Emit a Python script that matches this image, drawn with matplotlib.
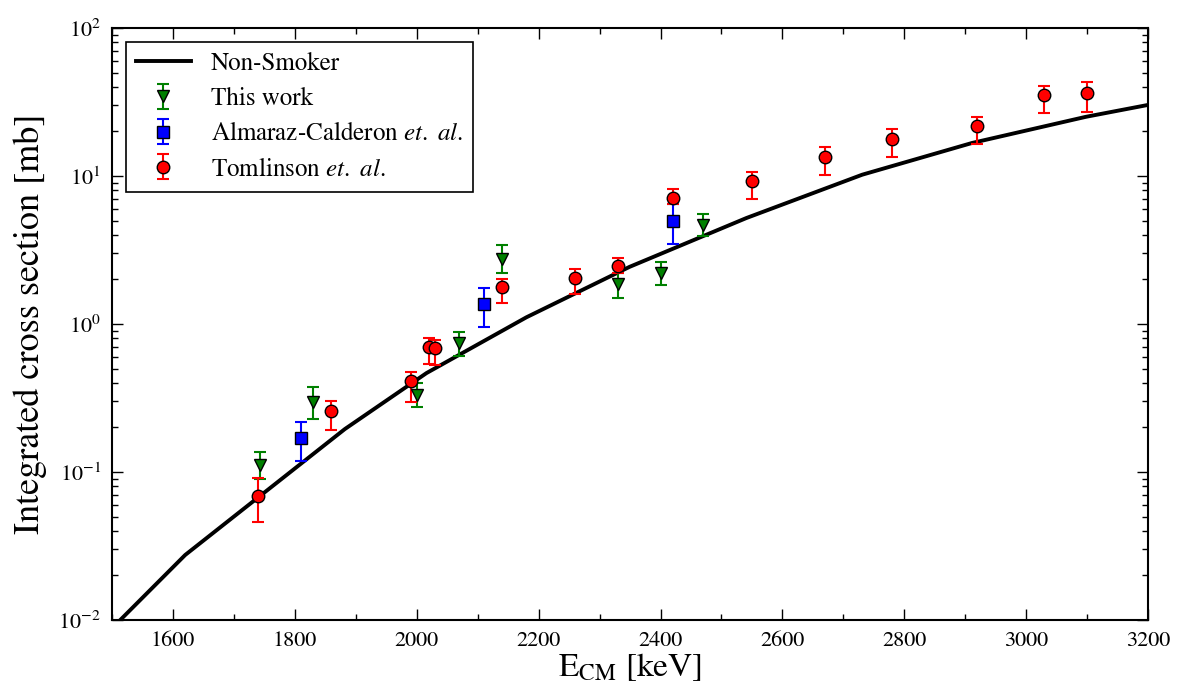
# cross section vs centre-of-mass energy, Non-Smoker vs data
import numpy as np
import matplotlib
matplotlib.use("Agg")
import matplotlib.pyplot as plt
from matplotlib.ticker import MultipleLocator

plt.rcParams["font.family"] = ["STIXGeneral", "DejaVu Serif"]
plt.rcParams["mathtext.fontset"] = "stix"

# Non-Smoker calculation
ns_energy = [1500, 1620, 1882, 2016, 2180, 2349, 2541, 2731, 2911, 3098, 3200]
ns_sigma = [0.0088, 0.0275, 0.195, 0.466, 1.11, 2.43, 5.2, 10.2, 16.7, 25.1, 30.2]

# this work
tw_energy = [1742, 1830, 2000, 2070, 2140, 2330, 2400, 2470]
tw_sigma = [0.111, 0.297, 0.331, 0.745, 2.75, 1.86, 2.21, 4.67]
tw_up = [0.136, 0.375, 0.40, 0.88, 3.42, 2.20, 2.62, 5.53]
tw_lo = [0.0897, 0.228, 0.275, 0.61, 2.21, 1.50, 1.84, 3.94]

# Almaraz-Calderon et al.
ac_energy = [1810, 2110, 2420]
ac_sigma = [0.170, 1.36, 4.97]
ac_up = [0.218, 1.75, 6.47]
ac_lo = [0.119, 0.955, 3.47]

# Tomlinson et al.
tm_energy = [1740, 1860, 1990, 2020, 2030, 2140, 2260, 2330, 2420,
             2550, 2670, 2780, 2920, 3030, 3100]
tm_sigma = [0.0689, 0.258, 0.412, 0.700, 0.69, 1.78, 2.05, 2.47, 7.10,
            9.25, 13.4, 17.8, 21.8, 35.2, 36.4]
tm_up = [0.0912, 0.302, 0.474, 0.80, 0.78, 2.01, 2.35, 2.79, 8.17,
         10.6, 15.7, 20.8, 25.1, 40.6, 43.2]
tm_lo = [0.0459, 0.192, 0.297, 0.537, 0.53, 1.39, 1.60, 2.20, 6.47,
         7.0, 10.2, 13.4, 16.4, 26.7, 27.0]


def err(val, up, lo):
    """ asymmetric error arrays from upper/lower limits """
    val = np.array(val)
    return [val - np.array(lo), np.array(up) - val]


fig = plt.figure(figsize=(11.77, 6.82), dpi=100)
ax = fig.add_axes([0.0952, 0.0909, 0.8802, 0.8681])

ax.plot(ns_energy, ns_sigma, color="black", lw=2.8, label="Non-Smoker", zorder=2)

ax.errorbar(tw_energy, tw_sigma, yerr=err(tw_sigma, tw_up, tw_lo), fmt="v",
            color="green", mfc="green", mec="black", ms=9, capsize=4,
            elinewidth=1.5, capthick=1.5, label="This work", zorder=3)
ax.errorbar(ac_energy, ac_sigma, yerr=err(ac_sigma, ac_up, ac_lo), fmt="s",
            color="blue", mfc="blue", mec="black", ms=8, capsize=4,
            elinewidth=1.5, capthick=1.5,
            label=r"Almaraz-Calderon $\mathit{et.\ al.}$", zorder=3)
ax.errorbar(tm_energy, tm_sigma, yerr=err(tm_sigma, tm_up, tm_lo), fmt="o",
            color="red", mfc="red", mec="black", ms=9, capsize=4,
            elinewidth=1.5, capthick=1.5,
            label=r"Tomlinson $\mathit{et.\ al.}$", zorder=3)

ax.set_yscale("log")
ax.set_xlim(1500, 3200)
ax.set_ylim(1e-2, 1e2)
ax.xaxis.set_major_locator(MultipleLocator(200))
ax.xaxis.set_minor_locator(MultipleLocator(100))

ax.tick_params(which="both", direction="in", top=True, right=True,
               labelsize=16, pad=8)
ax.tick_params(which="major", length=8, width=1)
ax.tick_params(which="minor", length=4, width=1)
for sp in ax.spines.values():
    sp.set_linewidth(1.5)

ax.set_xlabel(r"E$_{\mathrm{CM}}$ [keV]", fontsize=24, labelpad=0)
ax.set_ylabel("Integrated cross section [mb]", fontsize=26, labelpad=8)

leg = ax.legend(loc="upper left", fontsize=18, fancybox=False,
                edgecolor="black", framealpha=1, numpoints=1,
                handlelength=2.2, borderaxespad=0.55, labelspacing=0.45)
leg.get_frame().set_linewidth(1.2)

plt.savefig("out.png", dpi=100)
